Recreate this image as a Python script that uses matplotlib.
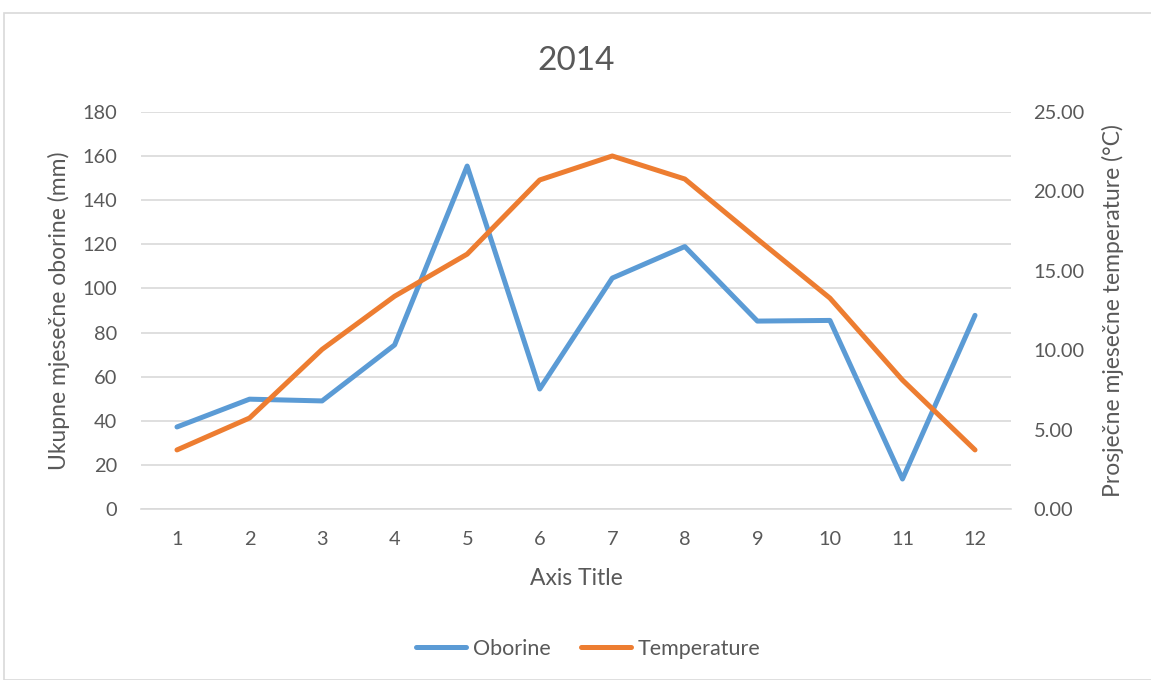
import matplotlib
matplotlib.use("Agg")
import matplotlib.pyplot as plt
from matplotlib.patches import Rectangle
from matplotlib.lines import Line2D

plt.rcParams['font.family'] = ['Lato', 'DejaVu Sans']

months = [1, 2, 3, 4, 5, 6, 7, 8, 9, 10, 11, 12]
oborine = [37.2, 49.8, 49.0, 74.4, 155.5, 54.4, 104.7, 119.0, 85.2, 85.5, 13.6, 87.8]
temperature = [3.72, 5.73, 10.05, 13.40, 16.05, 20.72, 22.23, 20.78, 17.0, 13.28, 8.12, 3.72]

left_ticks = list(range(0, 181, 20))
right_ticks = [0, 5, 10, 15, 20, 25]

blue = '#5B9BD5'
orange = '#ED7D31'
txt = '#595959'
grid = '#D9D9D9'

fig = plt.figure(figsize=(11.51, 6.8), dpi=100)
fig.patches.append(Rectangle((4 / 1151, 0), 1.0, 1 - 13 / 680, transform=fig.transFigure,
                             fill=False, edgecolor='#D9D9D9', linewidth=1.2))

ax = fig.add_axes([140.7 / 1151, 1 - 509 / 680, 870.6 / 1151, 397 / 680])
ax2 = ax.twinx()

ax.plot(months, oborine, color=blue, lw=3.6, solid_capstyle='round', solid_joinstyle='round', zorder=3)
ax2.plot(months, temperature, color=orange, lw=3.6, solid_capstyle='round', solid_joinstyle='round', zorder=3)

ax.set_xlim(0.5, 12.5)
ax.set_ylim(0, 180)
ax2.set_ylim(0, 25)
ax.set_xticks(months)
ax.set_yticks(left_ticks)
ax2.set_yticks(right_ticks)
ax2.set_yticklabels([f"{v:.2f}" for v in right_ticks])

ax.grid(axis='y', color=grid, lw=1.2)
ax.set_axisbelow(True)
for a in (ax, ax2):
    for s in a.spines.values():
        s.set_visible(False)
    a.tick_params(length=0, labelsize=14.4, colors=txt)
ax.spines['bottom'].set_visible(True)
ax.spines['bottom'].set_color(grid)
ax.spines['bottom'].set_linewidth(1.2)
ax.tick_params(axis='y', pad=17)
ax.tick_params(axis='x', pad=16)
ax2.tick_params(axis='y', pad=16)

ax.set_xlabel('Axis Title', fontsize=16.5, color=txt, labelpad=14)
ax.set_ylabel('Ukupne mjesečne oborine (mm)', fontsize=16.5, color=txt, labelpad=9)
ax2.set_ylabel('Prosječne mjesečne temperature (°C)', fontsize=16.5, color=txt, labelpad=12)
ax.set_title('2014', fontsize=24, color=txt, pad=30)

handles = [Line2D([], [], color=blue, lw=3.6, solid_capstyle='round'),
           Line2D([], [], color=orange, lw=3.6, solid_capstyle='round')]
fig.legend(handles, ['Oborine', 'Temperature'], loc='center', bbox_to_anchor=(588 / 1151, 1 - 649 / 680),
           ncol=2, frameon=False, fontsize=15.5, labelcolor=txt, handlelength=2.35, handletextpad=0.3,
           columnspacing=1.4)

fig.savefig('out.png', dpi=100)
